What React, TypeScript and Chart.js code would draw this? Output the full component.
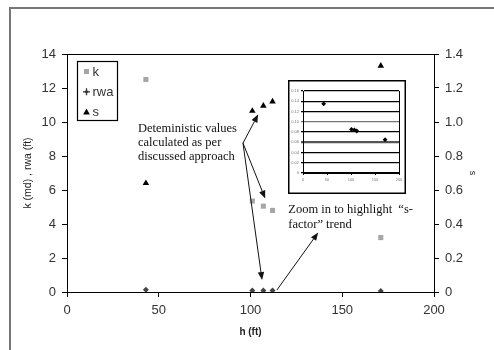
import React, { useEffect, useRef } from "react";
import { Chart, registerables } from "chart.js";
Chart.register(...registerables);

// ---- data ----
const hValues = [43, 101, 107, 112, 171];
const kValues = [12.5, 5.35, 5.05, 4.8, 3.2];
const rwaValues = [0.135, 0.085, 0.084, 0.082, 0.065];
const sValues = [0.64, 1.065, 1.095, 1.12, 1.33];
const seriesLabels = ["k", "rwa", "s"];
const xTitle = "h (ft)";
const yTitle = "k (md) , rwa (ft)";
const y2Title = "s";
const annotationText1 = ["Deteministic values", "calculated as per", "discussed approach"];
const annotationText2 = ["Zoom in to highlight  \u201cs-", "factor\u201d trend"];
// annotation anchors in data units (h, k-axis value)
const text1Anchor = [38.7, 9.63];
const text2Anchor = [120.6, 4.82];
const arrowHub = [95.9, 8.76];
const hubTargets = [
  [104.2, 10.45],
  [108.0, 5.5],
  [106.3, 0.7],
];
const zoomArrow = [
  [114.4, 0.12],
  [136.9, 3.5],
];

const FONT = "Arial, 'Liberation Sans', sans-serif";
const SERIF = "'Times New Roman', 'Liberation Serif', serif";

function arrow(ctx: CanvasRenderingContext2D, x1: number, y1: number, x2: number, y2: number) {
  const ang = Math.atan2(y2 - y1, x2 - x1);
  const len = 8;
  const w = 3.2;
  const bx = x2 - Math.cos(ang) * len;
  const by = y2 - Math.sin(ang) * len;
  ctx.beginPath();
  ctx.moveTo(x1, y1);
  ctx.lineTo(bx, by);
  ctx.stroke();
  ctx.beginPath();
  ctx.moveTo(x2, y2);
  ctx.lineTo(bx + Math.sin(ang) * w, by - Math.cos(ang) * w);
  ctx.lineTo(bx - Math.sin(ang) * w, by + Math.cos(ang) * w);
  ctx.closePath();
  ctx.fill();
}

const mainPlugin = {
  id: "mainDecor",
  afterDraw(chart: any) {
    const { ctx, chartArea } = chart;
    const sx = chart.scales.x;
    const sy = chart.scales.y;
    ctx.save();
    // plot frame
    ctx.strokeStyle = "#000";
    ctx.lineWidth = 1;
    ctx.strokeRect(chartArea.left + 0.5, chartArea.top + 0.5, chartArea.right - chartArea.left, chartArea.bottom - chartArea.top);

    // legend box
    const lx = chartArea.left + 10;
    const ly = chartArea.top + 7;
    ctx.lineWidth = 1.2;
    ctx.strokeRect(lx + 0.5, ly + 0.5, 40, 59);
    ctx.font = `13px ${FONT}`;
    ctx.textBaseline = "middle";
    ctx.textAlign = "left";
    seriesLabels.forEach((lab, i) => {
      const cy = ly + 10.5 + i * 20.3;
      const mx = lx + 9.5;
      if (i === 0) {
        ctx.fillStyle = "#a6a6a6";
        ctx.fillRect(mx - 2.5, cy - 2.5, 5, 5);
      } else if (i === 1) {
        ctx.fillStyle = "#333";
        ctx.strokeStyle = "#333";
        ctx.lineWidth = 1.3;
        ctx.beginPath();
        ctx.moveTo(mx - 3.5, cy);
        ctx.lineTo(mx + 3.5, cy);
        ctx.moveTo(mx, cy - 3.5);
        ctx.lineTo(mx, cy + 3.5);
        ctx.stroke();
        ctx.beginPath();
        ctx.moveTo(mx, cy - 2);
        ctx.lineTo(mx + 2, cy);
        ctx.lineTo(mx, cy + 2);
        ctx.lineTo(mx - 2, cy);
        ctx.fill();
      } else {
        ctx.fillStyle = "#000";
        ctx.beginPath();
        ctx.moveTo(mx, cy - 3.5);
        ctx.lineTo(mx + 3.3, cy + 2.5);
        ctx.lineTo(mx - 3.3, cy + 2.5);
        ctx.closePath();
        ctx.fill();
      }
      ctx.fillStyle = "#333";
      ctx.fillText(lab, lx + 15.5, cy + 0.5);
    });

    // annotation texts
    ctx.fillStyle = "#111";
    ctx.font = `12.5px ${SERIF}`;
    annotationText1.forEach((t, i) => {
      ctx.fillText(t, sx.getPixelForValue(text1Anchor[0]), sy.getPixelForValue(text1Anchor[1]) + i * 14.1);
    });
    annotationText2.forEach((t, i) => {
      ctx.fillText(t, sx.getPixelForValue(text2Anchor[0]), sy.getPixelForValue(text2Anchor[1]) + i * 15);
    });

    // arrows
    ctx.strokeStyle = "#111";
    ctx.fillStyle = "#111";
    ctx.lineWidth = 1;
    const hx = sx.getPixelForValue(arrowHub[0]);
    const hy = sy.getPixelForValue(arrowHub[1]);
    hubTargets.forEach((t) => {
      arrow(ctx, hx, hy, sx.getPixelForValue(t[0]), sy.getPixelForValue(t[1]));
    });
    arrow(
      ctx,
      sx.getPixelForValue(zoomArrow[0][0]),
      sy.getPixelForValue(zoomArrow[0][1]),
      sx.getPixelForValue(zoomArrow[1][0]),
      sy.getPixelForValue(zoomArrow[1][1])
    );
    ctx.restore();
  },
};

const insetPlugin = {
  id: "insetDecor",
  afterDraw(chart: any) {
    const { ctx, chartArea, width, height } = chart;
    ctx.save();
    ctx.strokeStyle = "#000";
    ctx.lineWidth = 1.5;
    ctx.strokeRect(0.75, 0.75, width - 1.5, height - 1.5);
    ctx.lineWidth = 1;
    ctx.beginPath();
    ctx.moveTo(chartArea.right + 0.5, chartArea.top);
    ctx.lineTo(chartArea.right + 0.5, chartArea.bottom);
    ctx.stroke();
    ctx.restore();
  },
};

export default function App() {
  const mainRef = useRef<HTMLCanvasElement | null>(null);
  const insetRef = useRef<HTMLCanvasElement | null>(null);

  useEffect(() => {
    if (!mainRef.current || !insetRef.current) return;
    const tickFont = { family: FONT, size: 13 };
    const main = new Chart(mainRef.current, {
      type: "scatter",
      data: {
        datasets: [
          {
            label: seriesLabels[0],
            data: hValues.map((h, i) => ({ x: h, y: kValues[i] })),
            pointStyle: "rect",
            pointRadius: 3.6,
            backgroundColor: "#a6a6a6",
            borderColor: "#a6a6a6",
            borderWidth: 0,
            yAxisID: "y",
          },
          {
            label: seriesLabels[1],
            data: hValues.map((h, i) => ({ x: h, y: rwaValues[i] })),
            pointStyle: "rectRot",
            pointRadius: 3,
            backgroundColor: "#444",
            borderColor: "#444",
            borderWidth: 0,
            yAxisID: "y",
          },
          {
            label: seriesLabels[2],
            data: hValues.map((h, i) => ({ x: h, y: sValues[i] })),
            pointStyle: "triangle",
            pointRadius: 3.8,
            backgroundColor: "#000",
            borderColor: "#000",
            borderWidth: 0,
            yAxisID: "y2",
          },
        ],
      },
      options: {
        responsive: false,
        animation: false,
        devicePixelRatio: 1,
        layout: { padding: { top: 54, left: 0, right: 0, bottom: 0 } },
        plugins: { legend: { display: false }, tooltip: { enabled: false } },
        scales: {
          x: {
            type: "linear",
            min: 0,
            max: 200,
            ticks: { stepSize: 50, color: "#333", font: tickFont, padding: 6 },
            grid: { drawOnChartArea: false, color: "#000", tickLength: 5 },
            border: { color: "#000", width: 1 },
            title: {
              display: true,
              text: xTitle,
              color: "#222",
              font: { family: FONT, size: 10, weight: "bold" },
              padding: { top: 0, bottom: 12 },
            },
            afterFit: (s: any) => {
              s.height = 58;
            },
          },
          y: {
            position: "left",
            min: 0,
            max: 14,
            ticks: { stepSize: 2, color: "#333", font: tickFont, padding: 6 },
            grid: { drawOnChartArea: false, color: "#000", tickLength: 5 },
            border: { color: "#000", width: 1 },
            title: {
              display: true,
              text: yTitle,
              color: "#222",
              font: { family: FONT, size: 10.5 },
              padding: { top: 22, bottom: 0 },
            },
            afterFit: (s: any) => {
              s.width = 67;
            },
          },
          y2: {
            position: "right",
            min: 0,
            max: 1.4,
            ticks: { stepSize: 0.2, color: "#333", font: tickFont, padding: 6 },
            grid: { drawOnChartArea: false, color: "#000", tickLength: 5 },
            border: { color: "#000", width: 1 },
            title: {
              display: true,
              text: y2Title,
              color: "#222",
              font: { family: FONT, size: 9 },
              padding: { top: 16.5, bottom: 0 },
            },
            afterFit: (s: any) => {
              s.width = 60;
            },
          },
        },
      },
      plugins: [mainPlugin],
    });

    const insetTickFont = { family: FONT, size: 4 };
    const inset = new Chart(insetRef.current, {
      type: "scatter",
      data: {
        datasets: [
          {
            label: seriesLabels[1],
            data: hValues.map((h, i) => ({ x: h, y: rwaValues[i] })),
            pointStyle: "rectRot",
            pointRadius: 2.4,
            backgroundColor: "#000",
            borderColor: "#000",
            borderWidth: 0,
          },
        ],
      },
      options: {
        responsive: false,
        animation: false,
        devicePixelRatio: 1,
        layout: { padding: { top: 11, right: 7, left: 0, bottom: 0 } },
        plugins: { legend: { display: false }, tooltip: { enabled: false } },
        scales: {
          x: {
            type: "linear",
            min: 0,
            max: 200,
            ticks: { stepSize: 50, color: "#777", font: insetTickFont, padding: 2, autoSkip: false, maxRotation: 0 },
            grid: { drawOnChartArea: false, color: "#000", tickLength: 2 },
            border: { color: "#000", width: 1 },
            afterFit: (s: any) => {
              s.height = 21;
            },
          },
          y: {
            min: 0,
            max: 0.16,
            ticks: { stepSize: 0.02, color: "#777", font: insetTickFont, padding: 2, autoSkip: false },
            grid: {
              color: (c: any) => (Math.abs(c.tick?.value - 0.06) < 1e-6 ? "#555" : Math.abs(c.tick?.value - 0.1) < 1e-6 ? "#777" : "#000"),
              lineWidth: (c: any) => (Math.abs(c.tick?.value - 0.06) < 1e-6 ? 2.2 : 1.3),
              tickLength: 2,
            },
            border: { color: "#000", width: 1 },
            afterFit: (s: any) => {
              s.width = 15;
            },
          },
        },
      },
      plugins: [insetPlugin],
    });

    return () => {
      main.destroy();
      inset.destroy();
    };
  }, []);

  return (
    <div style={{ position: "fixed", left: 0, top: 0, width: 494, height: 350, overflow: "hidden", background: "#fff" }}>
      <div
        style={{
          position: "absolute",
          left: 9,
          top: 7,
          width: 600,
          height: 500,
          border: "2px solid #777",
          boxSizing: "border-box",
        }}
      />
      <canvas ref={mainRef} width={494} height={350} style={{ position: "absolute", left: 0, top: 0, width: 494, height: 350 }} />
      <div style={{ position: "absolute", left: 288, top: 80, width: 118, height: 114, background: "#fff" }}>
        <canvas ref={insetRef} width={118} height={114} style={{ width: 118, height: 114, display: "block" }} />
      </div>
    </div>
  );
}
